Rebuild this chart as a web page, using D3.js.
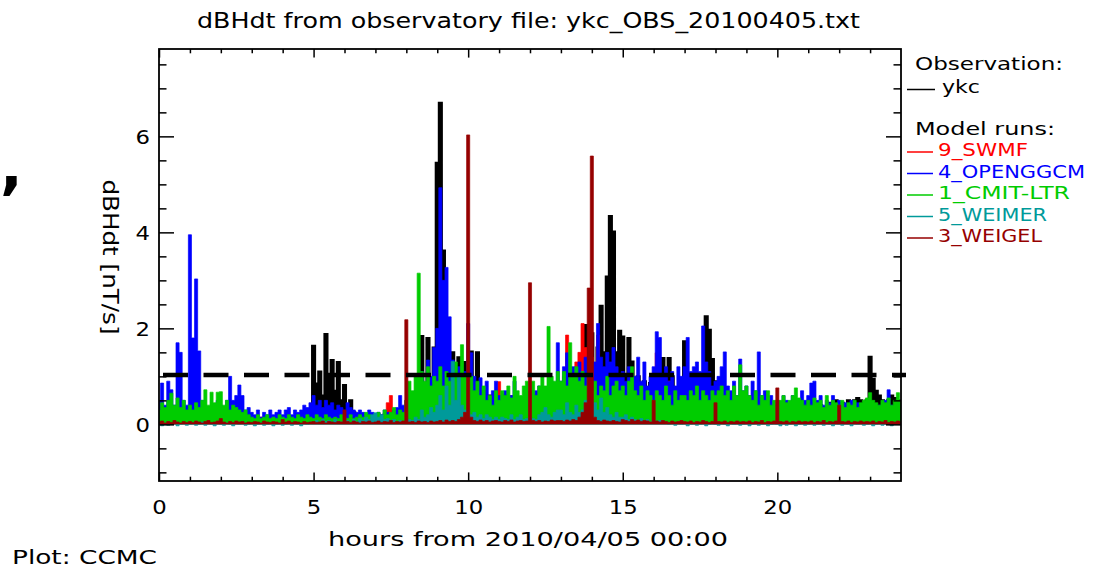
<!DOCTYPE html>
<html><head><meta charset="utf-8">
<script src="https://cdn.jsdelivr.net/npm/d3@7"></script>
<style>
html,body{margin:0;padding:0;background:#fff;}
svg{display:block;}
text{font-family:"DejaVu Sans",sans-serif;}
</style></head><body>
<svg id="chart" width="1104" height="571"></svg>
<script>
// ---------------- data (dB_H/dt, nT/s, one value every 0.1 h from 00:00 to 24:00) ----------------
const sampleStepHours = 0.1;
const obsYkc = [
0.35,0.3,0.25,0.3,0.35,0.3,0.25,0.3,0.35,0.3,
0.3,0.35,0.4,0.3,0.35,0.3,0.25,0.3,0.25,0.3,
0.2,0.25,0.2,0.15,0.2,0.15,0.15,0.12,0.15,0.12,
0.12,0.15,0.1,0.08,0.12,0.15,0.1,0.12,0.08,0.12,
0.12,0.08,0.12,0.15,0.12,0.15,0.2,0.15,0.2,0.3,
1.64,0.85,1.1,0.6,1.88,1.0,1.34,0.7,1.3,0.5,
0.82,0.4,0.5,0.25,0.2,0.2,0.15,0.15,0.2,0.15,
0.15,0.2,0.15,0.2,0.18,0.15,0.2,0.18,0.2,0.25,
0.35,0.45,0.4,0.6,0.5,1.84,0.8,1.8,0.9,1.6,
5.45,6.7,3.62,1.9,0.9,1.5,0.8,1.4,0.9,1.3,
0.8,1.52,0.7,1.5,0.6,0.7,0.5,0.6,0.5,0.55,
0.45,0.5,0.6,0.5,0.4,0.5,0.45,0.5,0.55,0.5,
0.5,0.45,0.6,0.5,0.55,0.6,0.7,0.6,0.5,0.7,
0.6,0.7,0.8,0.75,0.9,0.7,1.2,0.8,2.07,1.2,
1.9,1.0,1.6,2.47,1.5,3.08,4.34,4.02,1.5,1.95,
1.83,1.0,1.8,1.31,0.8,1.0,0.7,0.9,0.6,0.86,
0.7,0.9,0.6,1.38,0.9,1.38,1.0,0.7,0.6,0.8,
1.73,0.9,0.8,0.6,1.05,0.7,1.0,2.25,1.97,1.36,
0.9,0.6,0.7,0.5,0.6,0.5,0.4,0.5,0.4,0.45,
0.4,0.45,0.35,0.4,0.3,0.35,0.4,0.3,0.35,0.3,
0.3,0.35,0.3,0.25,0.3,0.35,0.3,0.4,0.35,0.3,
0.35,0.3,0.4,0.35,0.4,0.3,0.35,0.45,0.4,0.5,
0.4,0.45,0.4,0.5,0.45,0.5,0.55,0.5,0.45,0.5,
1.41,0.95,0.7,0.6,0.5,0.4,0.5,0.6,0.55,0.5,
0.4];
const swmf9 = [
0.1,0.15,0.2,0.1,0.15,0.2,0.15,0.1,0.2,0.15,
0.15,0.1,0.2,0.15,0.1,0.2,0.15,0.25,0.3,0.15,
0.1,0.15,0.1,0.2,0.15,0.1,0.15,0.1,0.15,0.1,
0.1,0.05,0.1,0.15,0.1,0.05,0.1,0.1,0.15,0.1,
0.1,0.15,0.1,0.05,0.1,0.15,0.1,0.1,0.15,0.1,
0.15,0.2,0.3,0.15,0.2,0.3,0.25,0.2,0.15,0.2,
0.15,0.1,0.15,0.2,0.1,0.15,0.1,0.2,0.15,0.1,
0.15,0.1,0.2,0.15,0.45,0.6,0.2,0.15,0.2,0.3,
0.2,0.3,0.4,0.3,0.5,0.4,0.6,0.5,0.7,0.6,
0.8,0.9,0.7,1.0,0.8,0.6,0.7,0.9,0.6,0.7,
0.6,0.7,0.5,0.6,0.4,0.5,0.6,0.4,0.5,0.6,
0.89,0.5,0.4,0.5,0.6,0.4,0.5,0.3,0.4,0.5,
0.4,0.5,0.6,0.4,0.5,0.7,0.55,0.6,0.5,0.7,
0.8,1.0,1.86,1.2,1.0,1.3,1.5,2.1,1.6,1.2,
1.4,1.2,1.86,1.0,0.9,0.8,0.7,0.6,0.7,0.5,
0.6,0.5,0.4,0.6,0.5,0.4,0.5,0.4,0.3,0.4,
0.5,1.49,0.6,0.5,0.4,0.9,0.68,0.4,0.3,0.4,
0.3,0.4,0.3,0.2,0.3,0.25,0.3,0.2,0.3,0.25,
0.2,0.3,0.2,0.25,0.2,0.3,0.2,0.15,0.2,0.25,
0.2,0.15,0.2,0.1,0.15,0.2,0.15,0.1,0.15,0.2,
0.15,0.1,0.2,0.15,0.1,0.15,0.2,0.1,0.15,0.1,
0.1,0.15,0.1,0.2,0.15,0.1,0.15,0.1,0.15,0.1,
0.15,0.1,0.15,0.1,0.2,0.15,0.1,0.15,0.1,0.15,
0.1,0.15,0.1,0.15,0.1,0.1,0.15,0.1,0.15,0.1,
0.1];
const openggcm4 = [
0.5,0.86,0.4,0.9,0.72,0.4,1.7,1.5,0.5,0.4,
3.95,1.8,3.03,1.53,0.5,0.3,0.35,0.3,0.4,0.5,
0.4,0.35,0.5,1.0,0.5,0.6,0.82,0.6,0.3,0.35,
0.25,0.2,0.3,0.15,0.25,0.2,0.3,0.2,0.25,0.3,
0.2,0.3,0.35,0.2,0.3,0.25,0.3,0.4,0.35,0.45,
0.6,0.4,0.5,0.35,0.5,0.4,0.45,0.3,0.4,0.35,
0.3,0.45,0.35,0.3,0.25,0.3,0.25,0.2,0.3,0.25,
0.2,0.25,0.2,0.3,0.25,0.2,0.3,0.35,0.6,0.4,
0.5,0.4,0.6,0.7,0.9,1.1,0.8,1.34,1.0,1.6,
2.0,4.93,3.0,3.27,2.24,1.34,1.0,1.2,0.9,1.1,
2.1,1.49,1.0,0.8,0.97,0.6,0.9,0.5,0.7,0.9,
0.6,0.5,0.7,0.45,0.6,0.9,0.5,0.4,0.55,0.6,
0.6,0.5,0.7,0.8,0.6,0.5,0.7,0.9,0.6,1.7,
0.9,1.2,1.49,1.0,1.2,0.9,1.3,1.1,1.4,1.2,
1.0,1.3,2.1,1.4,1.2,1.5,1.3,1.6,1.2,1.0,
1.1,0.9,1.2,0.8,1.0,1.4,0.9,1.3,0.8,1.0,
1.2,1.93,1.81,1.0,1.2,0.9,1.1,0.8,1.2,1.0,
1.2,1.81,1.1,1.2,1.3,1.1,2.05,1.3,1.1,0.8,
0.9,1.0,1.2,1.51,0.8,0.7,0.9,0.6,1.36,0.7,
0.8,0.6,0.9,0.7,1.51,0.6,0.7,0.5,0.6,0.4,
0.5,0.4,0.6,0.5,0.4,0.6,0.5,0.4,0.7,0.5,
0.6,0.86,0.9,0.5,0.6,0.4,0.5,0.45,0.6,0.4,
0.5,0.4,0.45,0.35,0.5,0.4,0.45,0.35,0.4,0.3,
0.4,0.35,0.3,0.4,0.35,0.5,0.72,0.4,0.35,0.4,
0.3];
const cmitLtr1 = [
0.3,0.45,0.35,0.5,0.65,0.4,0.55,0.35,0.5,0.3,
0.4,0.3,0.45,0.35,0.5,0.72,0.4,0.67,0.45,0.67,
0.68,0.4,0.5,0.3,0.4,0.35,0.3,0.25,0.3,0.2,
0.15,0.12,0.2,0.12,0.15,0.2,0.12,0.15,0.12,0.2,
0.15,0.12,0.2,0.15,0.12,0.2,0.15,0.12,0.2,0.15,
0.12,0.2,0.15,0.12,0.2,0.15,0.12,0.15,0.12,0.2,
0.15,0.12,0.2,0.12,0.15,0.2,0.15,0.25,0.2,0.15,
0.2,0.25,0.15,0.3,0.2,0.25,0.35,0.2,0.3,0.25,
0.5,0.9,0.7,1.0,3.15,1.1,0.9,1.2,0.8,1.0,
0.9,1.2,0.8,1.1,0.9,1.0,1.3,0.9,1.66,1.0,
0.9,1.0,0.7,0.9,0.6,0.8,0.5,0.6,0.4,0.7,
0.5,0.7,0.6,0.8,0.55,1.0,0.7,0.6,0.8,0.9,
0.7,0.9,0.6,0.8,1.0,0.8,2.04,1.0,0.9,1.1,
0.9,1.1,0.8,1.7,1.0,1.2,0.9,1.1,0.8,1.0,
0.7,0.9,0.6,0.8,0.7,1.0,0.6,0.8,0.9,0.7,
0.8,0.6,0.9,1.2,0.7,0.6,0.8,0.5,0.7,0.6,
0.5,0.7,0.6,0.5,0.8,0.6,0.4,0.7,0.5,0.6,
0.6,0.5,0.7,0.6,0.8,0.5,0.7,0.6,0.5,0.7,
0.6,0.7,0.8,0.6,0.7,0.5,0.8,0.6,1.24,0.7,
0.8,0.6,0.5,0.7,0.4,0.6,0.5,0.7,0.4,0.5,
0.4,0.5,0.6,0.45,0.5,0.6,0.76,0.55,0.5,0.4,
0.5,0.4,0.55,0.45,0.5,0.35,0.6,0.4,0.5,0.45,
0.4,0.5,0.35,0.45,0.4,0.5,0.35,0.45,0.5,0.55,
0.66,0.5,0.45,0.4,0.5,0.45,0.55,0.4,0.5,0.66,
0.5];
const weimer5 = [
0.0,-0.03,0.02,-0.02,0.0,0.03,-0.03,0.0,0.02,-0.02,
0.0,0.03,-0.02,0.0,0.05,-0.02,0.02,0.0,-0.03,0.02,
0.0,-0.02,0.03,0.0,-0.03,0.02,0.0,0.05,-0.02,0.0,
0.02,-0.03,0.0,0.03,-0.02,0.0,0.02,-0.03,0.0,0.02,
-0.02,0.0,0.03,-0.02,0.05,0.0,-0.03,0.02,0.0,0.05,
0.03,0.08,0.05,0.1,0.06,0.08,0.05,0.1,0.06,0.05,
0.05,0.08,0.04,0.1,0.06,0.12,0.08,0.15,0.1,0.2,
0.24,0.15,0.2,0.1,0.12,0.08,0.1,0.05,0.08,0.05,
0.05,0.1,0.08,0.15,0.1,0.3,0.15,0.2,0.35,0.25,
0.4,0.6,0.3,0.8,0.4,1.31,0.5,1.0,0.4,0.3,
0.3,0.2,0.25,0.15,0.2,0.12,0.2,0.15,0.1,0.15,
0.1,0.15,0.12,0.1,0.2,0.1,0.15,0.2,0.1,0.12,
0.15,0.12,0.1,0.2,0.25,0.35,0.2,0.15,0.25,0.3,
0.3,0.2,0.45,0.25,0.2,0.4,0.25,0.3,0.5,0.3,
0.2,0.45,0.3,0.55,0.25,0.35,0.2,0.15,0.25,0.15,
0.15,0.2,0.1,0.15,0.1,0.08,0.12,0.08,0.1,0.05,
0.1,0.05,0.08,0.03,0.05,0.0,0.03,-0.02,0.02,0.0,
0.02,-0.03,0.0,0.03,-0.02,0.0,0.02,-0.03,0.0,0.02,
0.0,-0.02,0.03,0.0,-0.03,0.02,0.0,0.05,-0.02,0.0,
0.02,-0.03,0.0,0.03,-0.02,0.0,0.02,-0.03,0.0,0.02,
0.0,-0.03,0.02,-0.02,0.0,0.03,-0.03,0.0,0.02,-0.02,
0.0,0.03,-0.02,0.0,0.05,-0.02,0.02,0.0,-0.03,0.02,
0.0,-0.02,0.03,0.0,-0.03,0.02,0.0,0.05,-0.02,0.0,
0.02,-0.03,0.0,0.03,-0.02,0.0,0.02,-0.03,0.0,0.02,
0.0];
const weigel3 = [
0.05,0.07,0.03,0.06,0.04,0.08,0.05,0.03,0.06,0.04,
0.06,0.04,0.07,0.05,0.03,0.06,0.08,0.04,0.05,0.07,
0.12,0.05,0.03,0.06,0.04,0.07,0.05,0.06,0.03,0.05,
0.04,0.06,0.05,0.03,0.07,0.05,0.04,0.06,0.05,0.03,
0.1,0.05,0.07,0.04,0.06,0.05,0.03,0.06,0.04,0.05,
0.06,0.04,0.05,0.07,0.03,0.06,0.05,0.04,0.06,0.05,
0.3,0.06,0.04,0.07,0.05,0.03,0.06,0.05,0.07,0.04,
0.05,0.07,0.04,0.06,0.05,0.08,0.04,0.06,0.05,0.07,
2.18,0.05,0.06,0.04,0.07,0.05,0.06,0.04,0.07,0.05,
0.06,0.08,0.05,0.09,0.06,0.08,0.06,0.1,0.15,0.25,
6.03,0.15,0.08,0.06,0.09,0.06,0.08,0.05,0.07,0.08,
0.06,0.05,0.08,0.06,0.09,0.05,0.07,0.08,0.06,0.07,
2.95,0.08,0.06,0.08,0.05,0.07,0.06,0.09,0.07,0.08,
0.08,0.06,0.09,0.07,0.1,0.08,0.15,0.25,0.45,2.84,
5.59,0.15,0.08,0.06,0.09,0.07,0.06,0.08,0.06,0.05,
0.1,0.08,0.06,0.1,0.07,0.09,0.06,0.08,0.07,0.05,
0.5,0.07,0.05,0.08,0.06,0.04,0.07,0.05,0.06,0.08,
0.06,0.05,0.07,0.04,0.06,0.05,0.08,0.06,0.04,0.06,
0.45,0.06,0.05,0.07,0.04,0.06,0.05,0.07,0.05,0.06,
0.05,0.07,0.04,0.06,0.05,0.08,0.04,0.06,0.05,0.07,
0.76,0.06,0.05,0.07,0.04,0.06,0.05,0.07,0.05,0.06,
0.05,0.07,0.04,0.06,0.05,0.08,0.04,0.06,0.05,0.07,
0.4,0.06,0.05,0.07,0.04,0.06,0.05,0.07,0.05,0.06,
0.05,0.07,0.04,0.06,0.05,0.08,0.04,0.06,0.05,0.07,
0.05];
const thresholdValue = 1.03;

const xMajorTicks = [0, 5, 10, 15, 20];
const xMinorTicks = [1,2,3,4,6,7,8,9,11,12,13,14,16,17,18,19,21,22,23];
const yMajorTicks = [0, 2, 4, 6];
const yMinorTicks = [-1,-0.5,0.5,1,1.5,2.5,3,3.5,4.5,5,5.5,6.5,7,7.5];

const titleText = "dBHdt from observatory file: ykc_OBS_20100405.txt";
const xTitleText = "hours from 2010/04/05 00:00";
const yTitleText = "dBHdt [nT/s]";
const footerText = "Plot: CCMC";
const obsLegend = {header: "Observation:", name: "ykc", color: "#000000"};
const modelHeader = "Model runs:";
const modelNames = ["9_SWMF", "4_OPENGGCM", "1_CMIT-LTR", "5_WEIMER", "3_WEIGEL"];
const modelColors = ["#ff0000", "#0000ff", "#00cc00", "#009a9a", "#960000"];
const modelValues = [swmf9, openggcm4, cmitLtr1, weimer5, weigel3];

// ---------------- drawing ----------------
const svg = d3.select("#chart");
const L = 159, R = 901, T = 49, B = 481;
const x = d3.scaleLinear().domain([0, 24]).range([L, R]);
const y = d3.scaleLinear().domain([-1.18, 7.82]).range([B, T]);

svg.append("defs").append("clipPath").attr("id", "plotClip")
  .append("rect").attr("x", L).attr("y", T).attr("width", R - L).attr("height", B - T);

const plot = svg.append("g").attr("clip-path", "url(#plotClip)");

const toPoints = arr => arr.map((v, i) => [i * sampleStepHours, v]);
// dense one-minute traces: draw each trace as its filled envelope (step per sample)
const traceArea = d3.area().x(d => x(d[0])).y0(y(0)).y1(d => y(d[1])).curve(d3.curveStep);
const traceLine = d3.line().x(d => x(d[0])).y(d => y(d[1])).curve(d3.curveStep);

function drawTrace(vals, color, width) {
  const pts = toPoints(vals);
  plot.append("path").attr("d", traceArea(pts)).attr("fill", color).attr("stroke", "none");
  plot.append("path").attr("d", traceLine(pts)).attr("fill", "none")
    .attr("stroke", color).attr("stroke-width", width);
}
drawTrace(obsYkc, "#000", 2);
modelValues.forEach((vals, k) => drawTrace(vals, modelColors[k], 0.7));

// threshold dashed line
svg.append("line")
  .attr("x1", L).attr("x2", R + 5)
  .attr("y1", y(thresholdValue)).attr("y2", y(thresholdValue))
  .attr("stroke", "#000").attr("stroke-width", 4.5)
  .attr("stroke-dasharray", "25,15.5").attr("stroke-dashoffset", 36.5);

// axes
function styleAxis(g) {
  g.selectAll("path.domain").remove();
  g.selectAll(".tick line").attr("stroke", "#000").attr("stroke-width", 1.5);
}
const fmt = d3.format("d");
const leftMajor = svg.append("g").attr("transform", `translate(${L},0)`)
  .call(d3.axisLeft(y).tickValues(yMajorTicks).tickSize(-15).tickSizeOuter(0).tickPadding(9).tickFormat(fmt));
const leftMinor = svg.append("g").attr("transform", `translate(${L},0)`)
  .call(d3.axisLeft(y).tickValues(yMinorTicks).tickSize(-7.5).tickSizeOuter(0).tickFormat(""));
const rightMajor = svg.append("g").attr("transform", `translate(${R},0)`)
  .call(d3.axisRight(y).tickValues(yMajorTicks).tickSize(-15).tickSizeOuter(0).tickFormat(""));
const rightMinor = svg.append("g").attr("transform", `translate(${R},0)`)
  .call(d3.axisRight(y).tickValues(yMinorTicks).tickSize(-7.5).tickSizeOuter(0).tickFormat(""));
const bottomMajor = svg.append("g").attr("transform", `translate(0,${B})`)
  .call(d3.axisBottom(x).tickValues(xMajorTicks).tickSize(-8.6).tickSizeOuter(0).tickPadding(20).tickFormat(fmt));
const bottomMinor = svg.append("g").attr("transform", `translate(0,${B})`)
  .call(d3.axisBottom(x).tickValues(xMinorTicks).tickSize(-4.3).tickSizeOuter(0).tickFormat(""));
const topMajor = svg.append("g").attr("transform", `translate(0,${T})`)
  .call(d3.axisTop(x).tickValues(xMajorTicks).tickSize(-8.6).tickSizeOuter(0).tickFormat(""));
const topMinor = svg.append("g").attr("transform", `translate(0,${T})`)
  .call(d3.axisTop(x).tickValues(xMinorTicks).tickSize(-4.3).tickSizeOuter(0).tickFormat(""));
[leftMajor,leftMinor,rightMajor,rightMinor,bottomMajor,bottomMinor,topMajor,topMinor].forEach(styleAxis);

// plot frame
svg.append("rect").attr("x", L).attr("y", T).attr("width", R - L).attr("height", B - T)
  .attr("fill", "none").attr("stroke", "#000").attr("stroke-width", 1.8);

[leftMajor, bottomMajor].forEach(g => {
  g.selectAll(".tick text")
    .attr("font-family", "DejaVu Sans").attr("font-size", 19).attr("fill", "#000")
    .attr("textLength", function() { return this.textContent.length * 14.5; })
    .attr("lengthAdjust", "spacingAndGlyphs");
});
leftMajor.selectAll(".tick text").attr("dy", "0.36em");

// text helper
function addText(txt, xPos, yPos, opts = {}) {
  const t = svg.append("text").text(txt)
    .attr("x", xPos).attr("y", yPos)
    .attr("font-size", opts.size || 20)
    .attr("fill", opts.color || "#000")
    .attr("text-anchor", opts.anchor || "start");
  if (opts.len) t.attr("textLength", opts.len).attr("lengthAdjust", "spacingAndGlyphs");
  if (opts.weight) t.attr("font-weight", opts.weight);
  if (opts.transform) t.attr("transform", opts.transform);
  return t;
}

addText(titleText, 528.5, 28, {anchor: "middle", len: 663, size: 21});
addText(xTitleText, 528, 546, {anchor: "middle", len: 400});
addText(footerText, 12, 564, {len: 145});
addText(yTitleText, 0, 0, {anchor: "middle", len: 155, size: 21, transform: "translate(103,257) rotate(90)"});
addText(",", 0, 187, {size: 60, weight: "bold"});

// legend
const legSize = 17.5;
addText(obsLegend.header, 915, 70, {len: 148, size: legSize});
svg.append("line").attr("x1", 907).attr("x2", 935).attr("y1", 89.5).attr("y2", 89.5)
  .attr("stroke", obsLegend.color).attr("stroke-width", 1.5);
addText(obsLegend.name, 942, 93, {len: 38, size: legSize});
addText(modelHeader, 915, 134.5, {len: 140, size: legSize});
const legendBase = [156, 177.5, 199, 220.5, 242];
const legendLens = [90, 147, 132, 109, 104];
modelNames.forEach((nm, k) => {
  svg.append("line").attr("x1", 907).attr("x2", 933)
    .attr("y1", legendBase[k] - 4).attr("y2", legendBase[k] - 4)
    .attr("stroke", modelColors[k]).attr("stroke-width", 1.5);
  addText(nm, 938, legendBase[k], {len: legendLens[k], color: modelColors[k], size: legSize});
});
</script>
</body></html>
